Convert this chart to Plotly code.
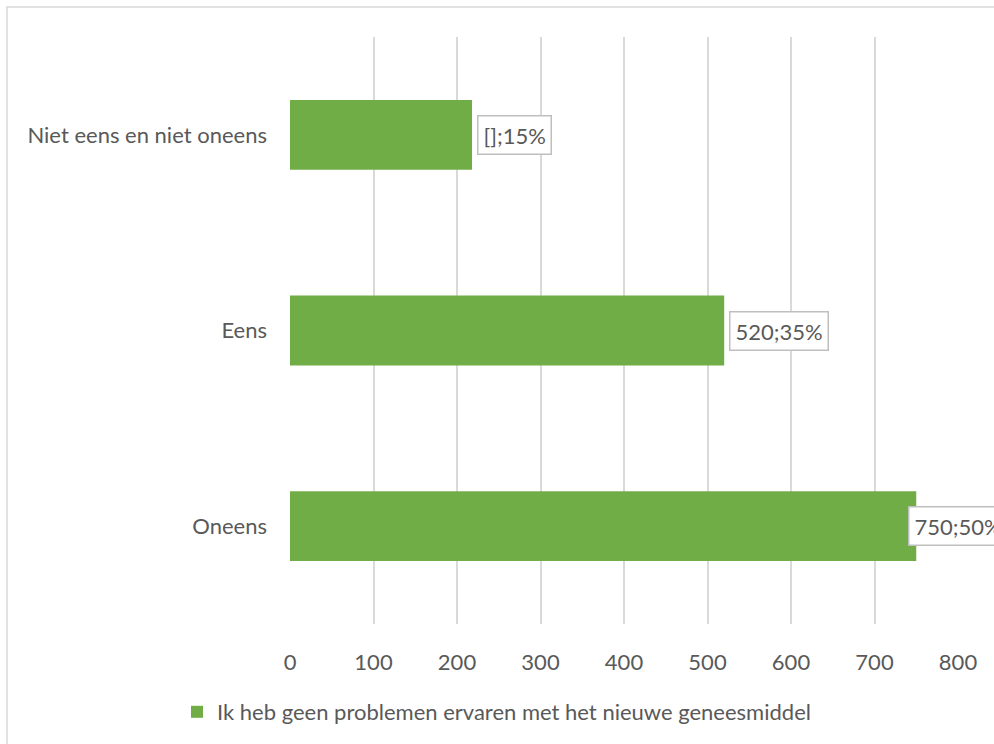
import plotly.graph_objects as go

categories = ["Oneens", "Eens", "Niet eens en niet oneens"]
values = [750, 520, 218]
labels = ["750;50%", "520;35%", "[];15%"]
label_shift = [-8, 5, 5]
series_name = "Ik heb geen problemen ervaren met het nieuwe geneesmiddel"
x_ticks = [0, 100, 200, 300, 400, 500, 600, 700, 800]

GREEN = "#70AD47"
TEXT = "#595959"
GRID = "#D9D9D9"
FONT = "Lato"
FS = 22

W, H = 994, 744
L, T = 290, 37
R, B = W - 958, H - 625
pw, ph = W - L - R, H - T - B

def px_x(sx):
    return (sx - L) / pw

def px_y(sy):
    return 1 - (sy - T) / ph

fig = go.Figure()
fig.add_trace(go.Bar(
    y=categories, x=values, orientation="h", name=series_name,
    marker=dict(color=GREEN, line=dict(width=0)),
    showlegend=True, hoverinfo="x+y",
))

for c, v, t, s in zip(categories, values, labels, label_shift):
    fig.add_annotation(
        x=v, y=c, xref="x", yref="y", text=t, showarrow=False,
        xanchor="left", yanchor="middle", xshift=s,
        font=dict(family=FONT, size=FS, color=TEXT),
        bgcolor="white", bordercolor="#BFBFBF", borderwidth=1.5, borderpad=5,
    )

fig.add_shape(type="rect", xref="paper", yref="paper",
              x0=px_x(7), x1=px_x(1030), y0=px_y(780), y1=px_y(7),
              line=dict(color=GRID, width=1.5), fillcolor="rgba(0,0,0,0)", layer="below")

fig.update_layout(
    width=W, height=H,
    margin=dict(l=L, r=R, t=T, b=B, pad=0),
    paper_bgcolor="white", plot_bgcolor="white",
    bargap=0.643,
    font=dict(family=FONT, size=FS, color=TEXT),
    legend=dict(orientation="h", x=px_x(177), y=px_y(712), xanchor="left", yanchor="middle",
                font=dict(family=FONT, size=FS, color=TEXT), itemwidth=30,
                bgcolor="rgba(0,0,0,0)"),
    xaxis=dict(range=[0, 800], tickvals=x_ticks, showgrid=True, gridcolor=GRID, gridwidth=1.5,
               zeroline=False, showline=False, ticks="", ticklabelstandoff=23,
               tickfont=dict(family=FONT, size=FS, color=TEXT), fixedrange=True),
    yaxis=dict(showgrid=False, zeroline=False, showline=False, ticks="", ticklabelstandoff=22,
               tickfont=dict(family=FONT, size=FS, color=TEXT), fixedrange=True),
)

fig.write_html(
    "out.html",
    config={"displayModeBar": False},
    post_script="document.body.style.margin='0';document.body.style.overflow='hidden';",
)
